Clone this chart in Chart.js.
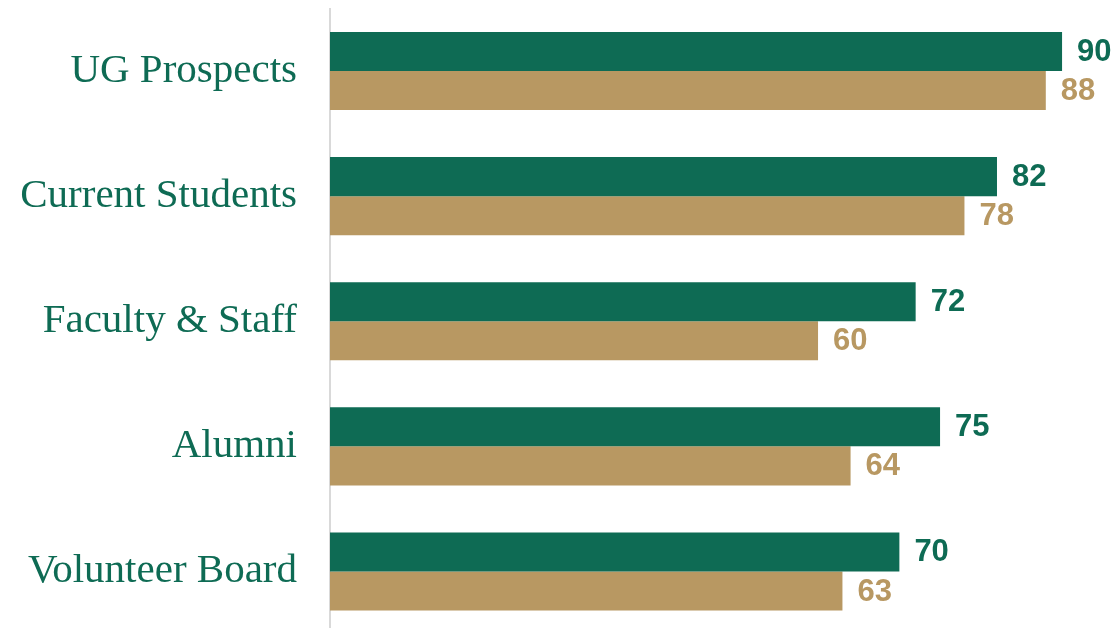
<!DOCTYPE html>
<html>
<head>
<meta charset="utf-8">
<script src="https://cdn.jsdelivr.net/npm/chart.js@4"></script>
<style>
  html, body { margin: 0; padding: 0; background: #fff; overflow: hidden; }
  #wrap { width: 1119px; height: 634px; }
</style>
</head>
<body>
<div id="wrap"><canvas id="bar-chart" width="1119" height="634"></canvas></div>
<script>
'use strict';

const groups = ['UG Prospects', 'Current Students', 'Faculty & Staff', 'Alumni', 'Volunteer Board'];
const greenValues = [90, 82, 72, 75, 70];
const tanValues = [88, 78, 60, 64, 63];

const GREEN = 'rgb(14, 107, 84)';
const TAN = 'rgb(184, 152, 98)';

// draws the number at the end of each bar
const valueLabels = {
  id: 'valueLabels',
  afterDatasetsDraw(chart) {
    const ctx = chart.ctx;
    ctx.save();
    ctx.font = 'bold 31px "Liberation Sans", Arial, sans-serif';
    ctx.textAlign = 'left';
    ctx.textBaseline = 'middle';
    chart.data.datasets.forEach((ds, i) => {
      const meta = chart.getDatasetMeta(i);
      ctx.fillStyle = ds.backgroundColor;
      meta.data.forEach((bar, j) => {
        ctx.fillText(ds.data[j], bar.x + 15, bar.y + 1);
      });
    });
    ctx.restore();
  }
};

new Chart(document.querySelector('#bar-chart'), {
  type: 'bar',
  data: {
    labels: groups,
    datasets: [
      { label: 'A', data: greenValues, backgroundColor: GREEN },
      { label: 'B', data: tanValues, backgroundColor: TAN }
    ]
  },
  options: {
    indexAxis: 'y',
    responsive: false,
    animation: false,
    devicePixelRatio: 1,
    categoryPercentage: 0.624,
    barPercentage: 1,
    layout: { padding: { top: 8.5, right: 0, bottom: 0, left: 0 } },
    plugins: {
      legend: { display: false },
      tooltip: { enabled: false }
    },
    scales: {
      x: {
        display: false,
        min: 0,
        max: 97
      },
      y: {
        // tick length (not padding) keeps the gap, so no extra space is added above and below
        grid: { display: false, drawTicks: true, tickLength: 33 },
        border: { display: true, color: '#d9d9d9', width: 2 },
        ticks: {
          color: GREEN,
          padding: 0,
          font: { family: '"Liberation Serif", Georgia, serif', size: 41 }
        },
        afterFit(scale) {
          scale.width = 330;
          scale.paddingTop = 0;
          scale.paddingBottom = 0;
        }
      }
    }
  },
  plugins: [valueLabels]
});
</script>
</body>
</html>
